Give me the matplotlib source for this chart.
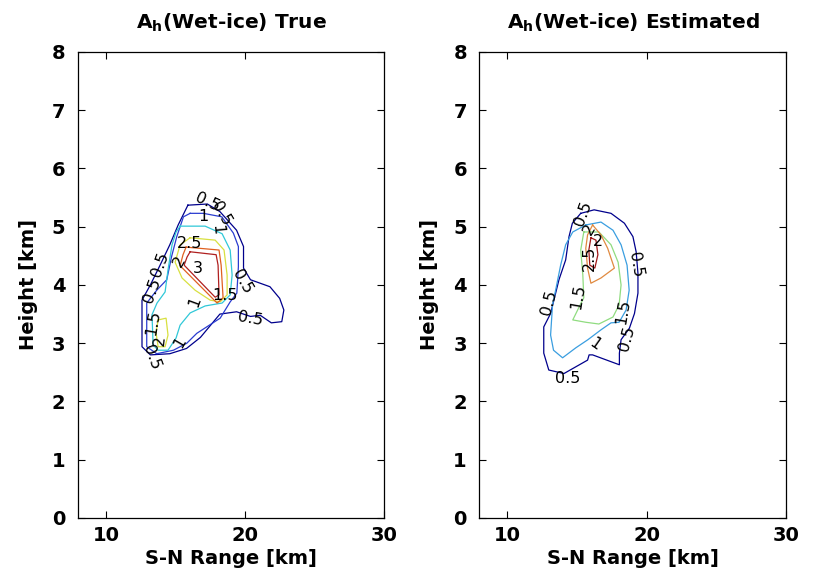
import matplotlib
matplotlib.use("Agg")
import matplotlib.pyplot as plt

plt.rcParams['font.family'] = ['DejaVu Sans']
plt.rcParams['mathtext.fontset'] = 'dejavusans'

# contour levels and their colours (jet-like, as in the original figure)
true_levels = [0.5, 1.0, 1.5, 2.0, 2.5, 3.0]
true_colors = ['#00008c', '#2a3cd0', '#30c8d8', '#d8e040', '#e06020', '#b02020']
est_levels = [0.5, 1.0, 1.5, 2.0, 2.5]
est_colors = ['#00008c', '#3a9ee0', '#90dc80', '#e08a40', '#a01818']

# ---- A_h true : contour lines (S-N range km, height km) ----
true_x = {
    0.5: [15.9, 17.3, 18.2, 19.4, 19.9, 19.9, 20.4, 21.8, 22.5, 22.8, 22.65, 21.9, 21.1,
          20.4, 19.4, 18.2, 16.8, 15.8, 14.6, 13.2, 12.6, 12.6, 13.2, 13.9, 14.6, 15.2, 15.9],
    1.0: [16.06, 17.01, 18.34, 19.17, 19.53, 19.53, 19.42, 18.94, 18.22, 16.54, 15.82, 14.86,
          13.66, 12.94, 12.94, 13.66, 14.38, 14.73, 15.1, 15.58, 16.06],
    1.5: [15.34, 17.14, 18.36, 18.94, 19.08, 18.94, 18.36, 17.14, 16.06, 15.34, 15.05, 14.47,
          13.76, 13.40, 13.32, 13.68, 14.26, 14.47, 14.76, 15.05, 15.34],
    2.0: [16.06, 17.86, 18.50, 18.72, 18.72, 18.22, 17.50, 16.42, 15.48, 14.98, 15.34, 16.06],
    2.5: [15.77, 18.14, 18.29, 18.43, 18.0, 15.34, 15.55, 15.77],
    3.0: [16.06, 17.93, 18.07, 18.14, 17.86, 15.63, 15.84, 16.06],
}
true_y = {
    0.5: [5.37, 5.39, 5.26, 4.94, 4.66, 4.29, 4.09, 3.97, 3.77, 3.57, 3.37, 3.35, 3.48,
          3.46, 3.54, 3.50, 3.10, 2.91, 2.82, 2.80, 2.94, 3.74, 4.0, 4.34, 4.69, 5.03, 5.37],
    1.0: [5.23, 5.23, 5.17, 4.89, 4.66, 4.31, 3.86, 3.71, 3.43, 3.17, 3.0, 2.88,
          2.82, 2.94, 3.69, 3.91, 4.09, 4.49, 4.83, 5.17, 5.23],
    1.5: [5.01, 5.01, 4.88, 4.60, 4.17, 3.83, 3.69, 3.64, 3.52, 3.31, 3.09, 2.88,
          2.88, 2.97, 3.49, 3.69, 3.88, 4.26, 4.69, 4.91, 5.01],
    2.0: [4.81, 4.77, 4.60, 4.17, 3.83, 3.71, 3.74, 3.91, 4.12, 4.39, 4.69, 4.81],
    2.5: [4.65, 4.60, 4.34, 3.78, 3.69, 4.33, 4.52, 4.65],
    3.0: [4.57, 4.52, 4.34, 3.83, 3.79, 4.34, 4.48, 4.57],
}
# small second maximum (2.0) in the lower-left lobe
true_lobe_x = [13.76, 14.33, 14.47, 14.26, 13.76, 13.61, 13.76]
true_lobe_y = [3.40, 3.43, 3.14, 2.94, 2.94, 3.18, 3.40]

# ---- A_h estimated ----
est_x = {
    0.5: [15.26, 16.22, 17.43, 18.39, 19.0, 19.23, 19.36, 19.36, 19.11, 18.75, 18.15, 18.03,
          18.03, 16.11, 15.86, 15.75, 14.06, 12.97, 12.61, 12.61, 13.10, 13.70, 14.18, 14.42,
          14.66, 15.26],
    1.0: [15.62, 16.71, 17.57, 18.15, 18.58, 18.73, 18.51, 18.01, 17.43, 16.71, 15.77, 14.90,
          13.96, 13.31, 13.10, 13.24, 13.46, 13.82, 14.18, 14.69, 15.62],
    1.5: [15.48, 16.56, 17.43, 17.94, 18.15, 18.01, 17.57, 16.56, 15.62, 14.69, 15.12, 15.48,
          15.41, 15.26, 15.48],
    2.0: [16.11, 16.71, 17.19, 17.67, 16.71, 15.99, 15.75, 15.62, 15.75, 16.11],
    2.5: [15.99, 16.35, 16.49, 16.27, 15.91, 15.84, 15.99],
}
est_y = {
    0.5: [5.23, 5.29, 5.23, 5.06, 4.83, 4.57, 4.20, 3.86, 3.51, 3.26, 3.06, 2.83,
          2.63, 2.80, 2.80, 2.71, 2.48, 2.54, 2.83, 3.28, 3.51, 4.09, 4.43, 4.83,
          5.06, 5.23],
    1.0: [5.03, 5.08, 4.94, 4.69, 4.34, 3.91, 3.57, 3.36, 3.35, 3.23, 3.06, 2.92,
          2.75, 2.88, 3.14, 3.66, 3.91, 4.34, 4.69, 4.91, 5.03],
    1.5: [4.91, 4.91, 4.69, 4.39, 4.0, 3.66, 3.45, 3.33, 3.36, 3.40, 3.61, 3.78,
          4.17, 4.60, 4.91],
    2.0: [5.03, 4.86, 4.63, 4.29, 4.12, 4.03, 4.29, 4.63, 4.86, 5.03],
    2.5: [4.81, 4.77, 4.52, 4.29, 4.34, 4.60, 4.81],
}

# contour labels: text, x, y
true_lab_text = ['0.5', '1', '0.5', '1', '2.5', '3', '2', '0.5', '0.5', '1.5', '1',
                 '0.5', '0.5', '1.5', '2', '1', '0.5']
true_lab_x = [17.3, 17.0, 18.3, 18.0, 16.0, 16.6, 15.3, 19.8, 20.4, 18.6, 16.4,
              13.3, 13.9, 13.4, 13.9, 15.3, 13.3]
true_lab_y = [5.42, 5.18, 5.22, 4.95, 4.72, 4.28, 4.40, 4.05, 3.42, 3.82, 3.72,
              3.90, 4.35, 3.35, 3.05, 3.02, 2.75]
true_lab_rot = [-25, 0, -60, -85, 0, 0, 60, -60, -10, 0, 70, 70, 70, 80, 85, 60, -70]

est_lab_text = ['0.5', '2', '2.5', '0.5', '1.5', '0.5', '1', '0.5', '0.5', '1.5', '2']
est_lab_x = [15.4, 16.5, 15.9, 19.2, 18.3, 18.6, 16.3, 14.3, 13.0, 15.1, 15.9]
est_lab_y = [5.22, 4.75, 4.45, 4.35, 3.55, 3.08, 2.98, 2.40, 3.70, 3.80, 4.95]
est_lab_rot = [70, 0, 90, -80, 80, 75, -35, 0, 75, 80, 60]


def draw_panel(ax, xs, ys, levels, cols, lab_t, lab_x, lab_y, lab_r, title):
    for lev, c in zip(levels, cols):
        ax.plot(xs[lev], ys[lev], color=c, lw=0.9)
    for t, x, y, r in zip(lab_t, lab_x, lab_y, lab_r):
        ax.text(x, y, t, fontsize=11.5, rotation=r, ha='center', va='center',
                rotation_mode='anchor')
    ax.set_xlim(8, 30)
    ax.set_ylim(0, 8)
    ax.set_xticks([10, 20, 30])
    ax.set_yticks(range(0, 9))
    ax.tick_params(direction='in', top=True, right=True, length=5, width=0.8,
                   labelsize=14)
    ax.tick_params(axis='y', pad=9)
    ax.tick_params(axis='x', pad=6)
    for lab in ax.get_xticklabels() + ax.get_yticklabels():
        lab.set_fontweight('bold')
    for s in ax.spines.values():
        s.set_linewidth(0.9)
    ax.set_xlabel('S-N Range [km]', fontsize=14, fontweight='bold', labelpad=3)
    ax.set_ylabel('Height [km]', fontsize=14, fontweight='bold', labelpad=10)
    ax.set_title(title, fontsize=14.5, fontweight='bold', pad=17)


fig = plt.figure(figsize=(8.17, 5.77), dpi=100)
ax1 = fig.add_axes([0.0955, 0.1023, 0.3745, 0.8076])
ax2 = fig.add_axes([0.5868, 0.1023, 0.3758, 0.8076])

draw_panel(ax1, true_x, true_y, true_levels, true_colors, true_lab_text, true_lab_x,
           true_lab_y, true_lab_rot, r'$\mathbf{A_h}$(Wet-ice) True')
ax1.plot(true_lobe_x, true_lobe_y, color=true_colors[3], lw=0.9)

draw_panel(ax2, est_x, est_y, est_levels, est_colors, est_lab_text, est_lab_x,
           est_lab_y, est_lab_rot, r'$\mathbf{A_h}$(Wet-ice) Estimated')

fig.savefig('out.png', dpi=100)
